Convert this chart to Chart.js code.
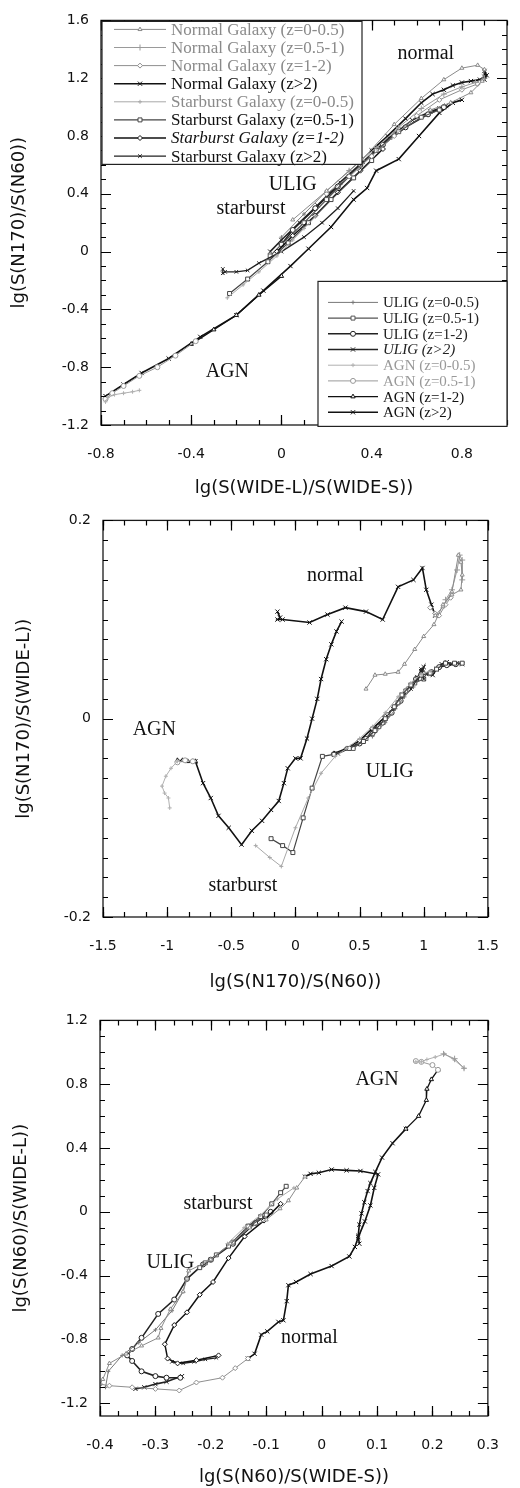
<!DOCTYPE html>
<html>
<head>
<meta charset="utf-8">
<script src="https://cdn.jsdelivr.net/npm/chart.js@4.4.1/dist/chart.umd.min.js"></script>
<style>
  html, body { margin: 0; padding: 0; background: #fff; }
  .panel { position: absolute; left: 0; width: 520px; }
</style>
</head>
<body>
<div class="panel" style="top:0"><canvas id="c1" width="520" height="500"></canvas></div>
<div class="panel" style="top:500px"><canvas id="c2" width="520" height="500"></canvas></div>
<div class="panel" style="top:1000px"><canvas id="c3" width="520" height="488"></canvas></div>
<script>
// series names (same 16 model tracks in every panel)
const seriesLabels = [
  'Normal Galaxy (z=0-0.5)', 'Normal Galaxy (z=0.5-1)', 'Normal Galaxy (z=1-2)', 'Normal Galaxy (z>2)',
  'Starburst Galaxy (z=0-0.5)', 'Starburst Galaxy (z=0.5-1)', 'Starburst Galaxy (z=1-2)', 'Starburst Galaxy (z>2)',
  'ULIG (z=0-0.5)', 'ULIG (z=0.5-1)', 'ULIG (z=1-2)', 'ULIG (z>2)',
  'AGN (z=0-0.5)', 'AGN (z=0.5-1)', 'AGN (z=1-2)', 'AGN (z>2)'
];

// tick labels
const p1XTicks = [-0.8, -0.4, 0, 0.4, 0.8];
const p1YTicks = [-1.2, -0.8, -0.4, 0, 0.4, 0.8, 1.2, 1.6];
const p2XTicks = [-1.5, -1, -0.5, 0, 0.5, 1, 1.5];
const p2YTicks = [-0.2, 0, 0.2];
const p3XTicks = [-0.4, -0.3, -0.2, -0.1, 0, 0.1, 0.2, 0.3];
const p3YTicks = [-1.2, -0.8, -0.4, 0, 0.4, 0.8, 1.2];

// ---- panel 1 : lg(S(N170)/S(N60)) vs lg(S(WIDE-L)/S(WIDE-S))
const p1Normal1 = [[0.05,0.22],[0.2,0.42],[0.36,0.64],[0.5,0.88],[0.62,1.06],[0.72,1.19],[0.8,1.27],[0.87,1.29],[0.9,1.26],[0.89,1.18],[0.84,1.1],[0.75,1.03],[0.66,0.98]];
const p1Normal2 = [[0.3,0.56],[0.42,0.72],[0.52,0.86],[0.62,0.99],[0.72,1.09],[0.8,1.14],[0.86,1.17],[0.9,1.2]];
const p1Normal3 = [[0.2,0.4],[0.3,0.52],[0.4,0.66],[0.5,0.8],[0.6,0.94],[0.7,1.05],[0.8,1.12],[0.87,1.16]];
const p1Normal4 = [[0.4,0.7],[0.47,0.8],[0.55,0.92],[0.62,1.03],[0.67,1.09],[0.72,1.12],[0.76,1.15],[0.8,1.17],[0.84,1.18],[0.88,1.19],[0.9,1.21],[0.9,1.25],[0.91,1.22],[0.9,1.19]];
const p1Star1 = [[-0.24,-0.32],[-0.17,-0.23],[-0.1,-0.14],[-0.02,-0.03],[0.05,0.08],[0.1,0.16],[0.15,0.24]];
const p1Star2 = [[-0.23,-0.29],[-0.15,-0.19],[-0.06,-0.07],[0.03,0.06],[0.12,0.2],[0.22,0.36],[0.32,0.51],[0.4,0.63]];
const p1Star3 = [[-0.02,0.0],[0.05,0.11],[0.15,0.25],[0.25,0.41],[0.35,0.56],[0.45,0.71]];
const p1Star4 = [[-0.26,-0.12],[-0.26,-0.15],[-0.25,-0.14],[-0.2,-0.14],[-0.15,-0.13],[-0.1,-0.08],[0.0,0.0],[0.1,0.1],[0.18,0.2],[0.25,0.3],[0.32,0.42]];
const p1Ulig1 = [[0.0,0.1],[0.1,0.26],[0.2,0.42],[0.3,0.56],[0.4,0.7],[0.5,0.83]];
const p1Ulig2 = [[-0.05,-0.03],[0.0,0.05],[0.1,0.2],[0.2,0.36],[0.3,0.52],[0.42,0.7],[0.52,0.83],[0.62,0.93],[0.7,0.98]];
const p1Ulig3 = [[0.0,0.05],[0.05,0.15],[0.15,0.3],[0.25,0.45],[0.35,0.6],[0.45,0.74],[0.55,0.86],[0.65,0.95],[0.72,1.0]];
const p1Ulig4 = [[-0.05,0.0],[0.0,0.08],[0.08,0.2],[0.16,0.32],[0.26,0.48],[0.36,0.62],[0.48,0.79],[0.58,0.91],[0.66,0.97],[0.7,0.99],[0.72,1.0],[0.73,1.01],[0.71,0.99]];
const p1Agn1 = [[-0.78,-1.04],[-0.77,-1.01],[-0.74,-0.99],[-0.7,-0.98],[-0.66,-0.97],[-0.63,-0.96]];
const p1Agn2 = [[-0.78,-1.02],[-0.75,-0.98],[-0.7,-0.93],[-0.63,-0.86],[-0.55,-0.8],[-0.47,-0.72],[-0.38,-0.62]];
const p1Agn3 = [[-0.4,-0.64],[-0.3,-0.54],[-0.2,-0.44],[-0.1,-0.3],[0.0,-0.17]];
const p1Agn4 = [[-0.78,-1.0],[-0.7,-0.92],[-0.62,-0.84],[-0.5,-0.74],[-0.36,-0.59],[-0.2,-0.44],[-0.08,-0.27],[0.04,-0.1],[0.12,0.02],[0.22,0.17],[0.32,0.36],[0.38,0.44],[0.42,0.56],[0.52,0.64],[0.61,0.8],[0.7,0.96],[0.76,1.03],[0.8,1.05]];

// ---- panel 2 : lg(S(N170)/S(WIDE-L)) vs lg(S(N170)/S(N60))
const p2Normal1 = [[1.09,0.104],[1.15,0.113],[1.22,0.128],[1.27,0.165],[1.29,0.158],[1.3,0.145],[1.29,0.13],[1.22,0.125],[1.15,0.115],[1.08,0.095],[1.0,0.083],[0.93,0.07],[0.85,0.055],[0.8,0.047],[0.7,0.045],[0.62,0.044],[0.55,0.03]];
const p2Normal2 = [[1.17,0.12],[1.22,0.13],[1.26,0.15],[1.28,0.165],[1.3,0.16],[1.3,0.14]];
const p2Normal3 = [[1.05,0.112],[1.09,0.106],[1.12,0.104],[1.17,0.115],[1.21,0.122]];
const p2Normal4 = [[-0.14,0.108],[-0.12,0.102],[-0.14,0.1],[-0.1,0.1],[0.11,0.097],[0.25,0.105],[0.39,0.112],[0.55,0.108],[0.68,0.1],[0.8,0.133],[0.92,0.14],[0.99,0.152],[1.02,0.13],[1.06,0.115],[1.09,0.104]];
const p2Star1 = [[-0.31,-0.128],[-0.2,-0.14],[-0.11,-0.149],[0.0,-0.11],[0.1,-0.08],[0.2,-0.055],[0.31,-0.038],[0.4,-0.03],[0.5,-0.02],[0.6,-0.008],[0.7,0.006],[0.8,0.022],[0.9,0.036],[0.98,0.045],[1.05,0.048]];
const p2Star2 = [[-0.19,-0.121],[-0.1,-0.128],[-0.02,-0.135],[0.06,-0.1],[0.13,-0.07],[0.21,-0.038],[0.3,-0.036],[0.42,-0.03],[0.53,-0.023],[0.62,-0.012],[0.7,0.0],[0.77,0.012],[0.83,0.024],[0.9,0.034],[0.98,0.044],[1.05,0.046],[1.1,0.05],[1.17,0.056],[1.24,0.056],[1.3,0.056]];
const p2Star3 = [[0.3,-0.035],[0.4,-0.03],[0.5,-0.022],[0.6,-0.01],[0.7,0.002]];
const p2Star4 = [[0.9,0.03],[0.95,0.04],[0.98,0.05],[1.0,0.04]];
const p2Ulig1 = [[0.6,-0.018],[0.7,-0.004],[0.78,0.01],[0.85,0.022],[0.92,0.032]];
const p2Ulig2 = [[0.45,-0.03],[0.55,-0.02],[0.65,-0.008],[0.72,0.004],[0.8,0.016],[0.86,0.028],[0.93,0.036],[1.0,0.04]];
const p2Ulig3 = [[0.5,-0.025],[0.6,-0.015],[0.68,-0.004],[0.75,0.006],[0.82,0.018],[0.88,0.03],[0.94,0.04],[1.0,0.045],[1.06,0.047],[1.12,0.052],[1.18,0.054],[1.25,0.055]];
const p2Ulig4 = [[0.33,-0.035],[0.45,-0.028],[0.55,-0.02],[0.62,-0.01],[0.7,0.0],[0.76,0.01],[0.83,0.024],[0.9,0.034],[0.95,0.042],[0.99,0.047],[1.0,0.052],[0.98,0.048],[1.02,0.045],[1.07,0.044],[1.1,0.05],[1.14,0.055],[1.18,0.057],[1.22,0.055],[1.26,0.056],[1.3,0.055]];
const p2Agn1 = [[-0.92,-0.043],[-0.97,-0.05],[-1.01,-0.058],[-1.04,-0.068],[-1.02,-0.075],[-0.99,-0.08],[-0.98,-0.09]];
const p2Agn2 = [[-0.8,-0.043],[-0.86,-0.042],[-0.92,-0.044]];
const p2Agn3 = [[-0.92,-0.042],[-0.88,-0.042],[-0.84,-0.043],[-0.8,-0.043],[-0.78,-0.043]];
const p2Agn4 = [[-0.78,-0.043],[-0.72,-0.065],[-0.66,-0.08],[-0.6,-0.098],[-0.52,-0.11],[-0.42,-0.127],[-0.34,-0.113],[-0.26,-0.103],[-0.19,-0.092],[-0.13,-0.083],[-0.09,-0.065],[-0.06,-0.05],[0.0,-0.04],[0.04,-0.04],[0.09,-0.02],[0.13,0.0],[0.17,0.02],[0.2,0.04],[0.24,0.06],[0.28,0.075],[0.32,0.088],[0.36,0.098]];

// ---- panel 3 : lg(S(N60)/S(WIDE-L)) vs lg(S(N60)/S(WIDE-S))
const p3Normal1 = [[-0.03,0.22],[-0.045,0.15],[-0.06,0.07],[-0.075,0.02],[-0.1,-0.05],[-0.13,-0.1],[-0.165,-0.2],[-0.2,-0.3],[-0.24,-0.37],[-0.243,-0.42],[-0.25,-0.5],[-0.273,-0.61],[-0.29,-0.73],[-0.295,-0.79],[-0.325,-0.84],[-0.353,-0.89],[-0.383,-0.95],[-0.395,-1.05],[-0.4,-1.08]];
const p3Normal2 = [[0.22,0.99],[0.24,0.96],[0.257,0.9]];
const p3Normal3 = [[-0.133,-0.92],[-0.156,-0.98],[-0.179,-1.04],[-0.226,-1.07],[-0.257,-1.12],[-0.3,-1.11],[-0.342,-1.1],[-0.383,-1.09],[-0.4,-1.08]];
const p3Normal4 = [[-0.03,0.22],[-0.02,0.238],[-0.005,0.245],[0.018,0.265],[0.045,0.26],[0.07,0.256],[0.102,0.235],[0.095,0.15],[0.088,0.04],[0.078,-0.06],[0.066,-0.16],[0.06,-0.22],[0.05,-0.28],[0.018,-0.34],[-0.02,-0.39],[-0.046,-0.44],[-0.06,-0.46],[-0.063,-0.56],[-0.069,-0.68],[-0.078,-0.69],[-0.098,-0.75],[-0.109,-0.77],[-0.121,-0.89],[-0.133,-0.92]];
const p3Star1 = [[-0.05,0.15],[-0.08,0.08],[-0.11,-0.02],[-0.14,-0.1],[-0.17,-0.2]];
const p3Star2 = [[-0.064,0.16],[-0.074,0.12],[-0.09,0.05],[-0.11,-0.03],[-0.133,-0.09],[-0.168,-0.215],[-0.2,-0.3],[-0.22,-0.35]];
const p3Star3 = [[-0.074,0.05],[-0.104,-0.055],[-0.139,-0.155],[-0.168,-0.29],[-0.196,-0.44],[-0.22,-0.52],[-0.243,-0.63],[-0.266,-0.71],[-0.283,-0.83],[-0.278,-0.92],[-0.26,-0.95],[-0.226,-0.93],[-0.186,-0.9]];
const p3Star4 = [[-0.27,-0.94],[-0.25,-0.95],[-0.23,-0.94],[-0.21,-0.925],[-0.19,-0.915]];
const p3Ulig1 = [[-0.24,-0.36],[-0.25,-0.5],[-0.27,-0.62],[-0.3,-0.74],[-0.33,-0.82],[-0.36,-0.9],[-0.385,-1.0],[-0.39,-1.1]];
const p3Ulig2 = [[-0.1,-0.02],[-0.13,-0.09],[-0.16,-0.19],[-0.19,-0.27],[-0.21,-0.32]];
const p3Ulig3 = [[-0.092,0.0],[-0.12,-0.07],[-0.16,-0.2],[-0.2,-0.3],[-0.214,-0.33],[-0.243,-0.42],[-0.266,-0.55],[-0.295,-0.64],[-0.325,-0.79],[-0.342,-0.86],[-0.351,-0.9],[-0.342,-0.935],[-0.325,-1.0],[-0.3,-1.03],[-0.28,-1.04],[-0.255,-1.04]];
const p3Ulig4 = [[-0.336,-1.11],[-0.32,-1.1],[-0.3,-1.08],[-0.28,-1.065],[-0.252,-1.03]];
const p3Agn1 = [[0.17,0.94],[0.18,0.94],[0.19,0.955],[0.205,0.97],[0.222,0.99],[0.24,0.95],[0.257,0.9]];
const p3Agn2 = [[0.17,0.945],[0.18,0.94],[0.2,0.92],[0.21,0.89]];
const p3Agn3 = [[0.21,0.89],[0.198,0.83],[0.19,0.77],[0.189,0.7],[0.175,0.6],[0.152,0.52]];
const p3Agn4 = [[0.152,0.52],[0.128,0.43],[0.109,0.34],[0.097,0.25],[0.088,0.18],[0.083,0.13],[0.077,0.06],[0.072,-0.01],[0.068,-0.08],[0.066,-0.15],[0.068,-0.2]];

// region names written inside the plots
const p1Notes = [['normal', 0.64, 1.37], ['ULIG', 0.05, 0.46], ['starburst', -0.135, 0.3], ['AGN', -0.24, -0.83]];
const p2Notes = [['normal', 0.31, 0.144], ['AGN', -1.1, -0.011], ['ULIG', 0.735, -0.054], ['starburst', -0.41, -0.168]];
const p3Notes = [['AGN', 0.1, 0.825], ['starburst', -0.187, 0.05], ['ULIG', -0.273, -0.32], ['normal', -0.022, -0.79]];

// look of each series
const seriesStyle = [
  { color: '#8a8a8a', marker: 'triangle', r: 2.3, w: 1,   text: '#8a8a8a' },
  { color: '#9a9a9a', marker: 'cross',    r: 3,   w: 1,   text: '#8a8a8a' },
  { color: '#8f8f8f', marker: 'rectRot',  r: 2.5, w: 1,   text: '#8a8a8a' },
  { color: '#111',    marker: 'crossRot', r: 3,   w: 1.6, text: '#111' },
  { color: '#a8a8a8', marker: 'cross',    r: 2,   w: 1,   text: '#8a8a8a' },
  { color: '#444',    marker: 'rect',     r: 2.8, w: 1.2, text: '#111' },
  { color: '#111',    marker: 'rectRot',  r: 2.5, w: 1.5, text: '#111', italic: true },
  { color: '#222',    marker: 'crossRot', r: 2.5, w: 1.3, text: '#111' },
  { color: '#777',    marker: 'cross',    r: 2,   w: 1,   text: '#222' },
  { color: '#555',    marker: 'rect',     r: 2.8, w: 1.2, text: '#222' },
  { color: '#222',    marker: 'circle',   r: 2.5, w: 1.6, text: '#222' },
  { color: '#222',    marker: 'crossRot', r: 3,   w: 1.6, text: '#222', italic: true },
  { color: '#b0b0b0', marker: 'cross',    r: 2,   w: 1,   text: '#999' },
  { color: '#999',    marker: 'circle',   r: 2.5, w: 1,   text: '#999' },
  { color: '#111',    marker: 'triangle', r: 2.5, w: 1.3, text: '#111' },
  { color: '#111',    marker: 'crossRot', r: 3,   w: 1.6, text: '#111' }
];

Chart.defaults.font.family = '"DejaVu Sans", sans-serif';
Chart.defaults.color = '#111';

function steps(lo, hi, st) {
  const out = [];
  const n = Math.round((hi - lo) / st);
  for (let i = 0; i <= n; i++) out.push(lo + i * st);
  return out;
}

function buildSets(list) {
  return list.map((pts, i) => {
    const s = seriesStyle[i];
    return {
      label: seriesLabels[i],
      data: pts.map(p => ({ x: p[0], y: p[1] })),
      showLine: true,
      borderColor: s.color,
      borderWidth: s.w,
      pointStyle: s.marker,
      pointRadius: s.r,
      pointBorderColor: s.color,
      pointBackgroundColor: '#fff',
      pointBorderWidth: 1,
      tension: 0,
      fill: false
    };
  });
}

function drawLegend(chart, lg) {
  const { ctx, chartArea: a } = chart;
  const bx = a.left + lg.left, by = a.top + lg.top;
  ctx.fillStyle = '#fff';
  ctx.fillRect(bx, by, lg.w, lg.h);
  ctx.strokeStyle = '#222';
  ctx.lineWidth = 1.2;
  ctx.strokeRect(bx, by, lg.w, lg.h);
  lg.items.forEach((idx, k) => {
    const s = seriesStyle[idx];
    const yy = by + lg.first + k * lg.row;
    ctx.strokeStyle = s.color;
    ctx.lineWidth = s.w;
    ctx.beginPath();
    ctx.moveTo(bx + lg.line0, yy);
    ctx.lineTo(bx + lg.line1, yy);
    ctx.stroke();
    ctx.fillStyle = '#fff';
    ctx.lineWidth = 1;
    Chart.helpers.drawPoint(ctx, { pointStyle: s.marker, radius: s.r, borderWidth: 1, rotation: 0 },
      bx + (lg.line0 + lg.line1) / 2, yy);
    ctx.fillStyle = s.text;
    ctx.font = (s.italic ? 'italic ' : '') + lg.size + 'px "Liberation Serif", serif';
    ctx.textAlign = 'left';
    ctx.textBaseline = 'middle';
    ctx.fillText(seriesLabels[idx], bx + lg.text, yy + 1);
  });
}

// short inward tick segments along all four sides of the frame
function drawMarks(ctx, a, scale, vals, len, horiz) {
  ctx.beginPath();
  for (const v of vals) {
    const p = Math.round(scale.getPixelForValue(v)) + 0.5;
    if (horiz) {
      ctx.moveTo(p, a.bottom);
      ctx.lineTo(p, a.bottom - len);
      ctx.moveTo(p, a.top);
      ctx.lineTo(p, a.top + len);
    } else {
      ctx.moveTo(a.left, p);
      ctx.lineTo(a.left + len, p);
      ctx.moveTo(a.right, p);
      ctx.lineTo(a.right - len, p);
    }
  }
  ctx.stroke();
}

// frame, ticks, region names, legend boxes
function makeDecor(cfg) {
  return {
    id: 'decor',
    afterDraw(chart) {
      const ctx = chart.ctx;
      const a = chart.chartArea;
      const x = chart.scales.x, y = chart.scales.y;
      ctx.save();
      ctx.lineWidth = 1.3;
      ctx.strokeStyle = '#1a1a1a';
      ctx.strokeRect(a.left, a.top, a.right - a.left, a.bottom - a.top);
      ctx.lineWidth = 1.2;
      ctx.strokeStyle = '#000000';
      drawMarks(ctx, a, x, cfg.xMinor, 5, true);
      drawMarks(ctx, a, y, cfg.yMinor, 5, false);
      drawMarks(ctx, a, x, cfg.xTicks, 10, true);
      drawMarks(ctx, a, y, cfg.yTicks, 10, false);

      ctx.fillStyle = '#111';
      ctx.font = '20px "Liberation Serif", serif';
      ctx.textAlign = 'center';
      ctx.textBaseline = 'middle';
      cfg.notes.forEach(n => ctx.fillText(n[0], x.getPixelForValue(n[1]), y.getPixelForValue(n[2])));

      cfg.legends.forEach(lg => drawLegend(chart, lg));
      ctx.restore();
    }
  };
}

function fmt(v) { return String(+v.toFixed(2)); }

function makeChart(id, cfg) {
  return new Chart(document.getElementById(id), {
    type: 'scatter',
    data: { datasets: buildSets(cfg.series) },
    options: {
      responsive: false,
      animation: false,
      events: [],
      devicePixelRatio: 1,
      layout: { padding: cfg.pad },
      plugins: {
        legend: { display: false },
        tooltip: { enabled: false }
      },
      scales: {
        x: {
          type: 'linear', position: 'bottom',
          min: cfg.xRange[0], max: cfg.xRange[1],
          afterBuildTicks: s => { s.ticks = cfg.xTicks.map(v => ({ value: v })); },
          afterFit: s => { s.height = cfg.xHeight; },
          grid: { display: false, drawTicks: false },
          border: { display: false },
          ticks: { padding: 21, maxRotation: 0, autoSkip: false, font: { size: 14 }, color: '#111', callback: fmt },
          title: { display: true, text: cfg.xTitle, font: { size: 18 }, color: '#111', padding: { top: 0, bottom: cfg.xTitlePad } }
        },
        y: {
          type: 'linear', position: 'left',
          min: cfg.yRange[0], max: cfg.yRange[1],
          afterBuildTicks: s => { s.ticks = cfg.yTicks.map(v => ({ value: v })); },
          afterFit: s => { s.width = cfg.yWidth; },
          grid: { display: false, drawTicks: false },
          border: { display: false },
          ticks: { padding: 12, font: { size: 14 }, color: '#111', callback: fmt },
          title: { display: true, text: cfg.yTitle, font: { size: 18 }, color: '#111', padding: { top: cfg.yTitlePad, bottom: 0 } }
        }
      }
    },
    plugins: [makeDecor(cfg)]
  });
}

makeChart('c1', {
  series: [p1Normal1, p1Normal2, p1Normal3, p1Normal4, p1Star1, p1Star2, p1Star3, p1Star4,
           p1Ulig1, p1Ulig2, p1Ulig3, p1Ulig4, p1Agn1, p1Agn2, p1Agn3, p1Agn4],
  xRange: [-0.8, 1.0], yRange: [-1.2, 1.6],
  xTicks: p1XTicks, yTicks: p1YTicks,
  xMinor: steps(-0.8, 1.0, 0.1), yMinor: steps(-1.2, 1.6, 0.1),
  pad: { top: 16, right: 13, bottom: 0, left: 0 },
  xHeight: 75, yWidth: 101, xTitlePad: 1, yTitlePad: 9,
  xTitle: 'lg(S(WIDE-L)/S(WIDE-S))', yTitle: 'lg(S(N170)/S(N60))',
  notes: p1Notes,
  legends: [
    { items: [0, 1, 2, 3, 4, 5, 6, 7], left: 1, top: 1, w: 260, h: 143, first: 8, row: 18.1, line0: 12, line1: 64, text: 69, size: 17 },
    { items: [8, 9, 10, 11, 12, 13, 14, 15], left: 217, top: 261, w: 189, h: 145, first: 21, row: 15.7, line0: 10, line1: 60, text: 65, size: 15 }
  ]
});

makeChart('c2', {
  series: [p2Normal1, p2Normal2, p2Normal3, p2Normal4, p2Star1, p2Star2, p2Star3, p2Star4,
           p2Ulig1, p2Ulig2, p2Ulig3, p2Ulig4, p2Agn1, p2Agn2, p2Agn3, p2Agn4],
  xRange: [-1.5, 1.5], yRange: [-0.2, 0.2],
  xTicks: p2XTicks, yTicks: p2YTicks,
  xMinor: steps(-1.5, 1.5, 0.5 / 3), yMinor: steps(-0.2, 0.2, 0.02),
  pad: { top: 13, right: 12, bottom: 0, left: 0 },
  xHeight: 83, yWidth: 103, xTitlePad: 7, yTitlePad: 14,
  xTitle: 'lg(S(N170)/S(N60))', yTitle: 'lg(S(N170)/S(WIDE-L))',
  notes: p2Notes, legends: []
});

makeChart('c3', {
  series: [p3Normal1, p3Normal2, p3Normal3, p3Normal4, p3Star1, p3Star2, p3Star3, p3Star4,
           p3Ulig1, p3Ulig2, p3Ulig3, p3Ulig4, p3Agn1, p3Agn2, p3Agn3, p3Agn4],
  xRange: [-0.4, 0.3], yRange: [-1.28, 1.2],
  xTicks: p3XTicks, yTicks: p3YTicks,
  xMinor: steps(-0.4, 0.3, 0.1 / 3), yMinor: steps(-1.2, 1.2, 0.1),
  pad: { top: 13, right: 17, bottom: 0, left: 0 },
  xHeight: 72, yWidth: 100, xTitlePad: 0, yTitlePad: 11,
  xTitle: 'lg(S(N60)/S(WIDE-S))', yTitle: 'lg(S(N60)/S(WIDE-L))',
  notes: p3Notes, legends: []
});
</script>
</body>
</html>
